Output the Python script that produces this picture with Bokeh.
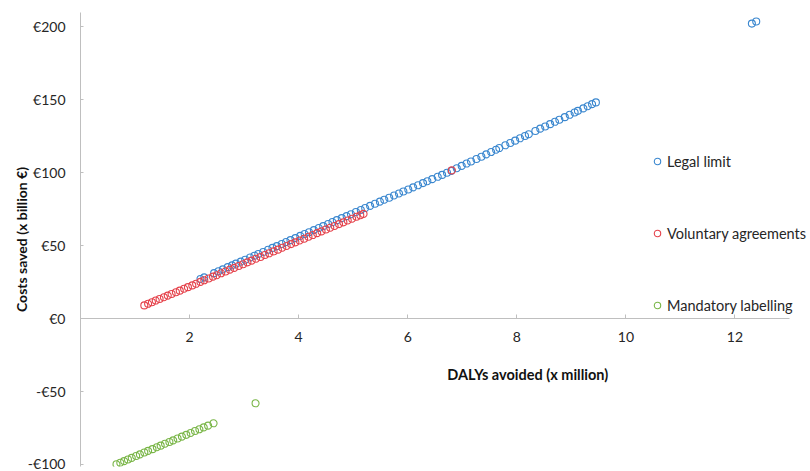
from bokeh.plotting import figure
from bokeh.models import FixedTicker, Label, Range1d
from bokeh.embed import file_html
from bokeh.resources import INLINE

# ---- data ----
legal_x = [2.20, 2.27, 2.45, 2.53, 2.61, 2.70, 2.78, 2.85, 2.94, 3.02, 3.11, 3.19, 3.26, 3.35,
           3.44, 3.52, 3.60, 3.69, 3.77, 3.85, 3.94, 4.03, 4.11, 4.19, 4.28, 4.37, 4.45, 4.54,
           4.62, 4.70, 4.79, 4.88, 4.96, 5.05, 5.14, 5.22, 5.31, 5.40, 5.49, 5.57, 5.66, 5.75,
           5.84, 5.92, 6.01, 6.10, 6.19, 6.28, 6.36, 6.45, 6.55, 6.63, 6.72, 6.80, 6.90, 6.99,
           7.08, 7.16, 7.26, 7.35, 7.44, 7.53, 7.62, 7.68, 7.79, 7.88, 7.97, 8.06, 8.15, 8.22,
           8.34, 8.43, 8.52, 8.61, 8.70, 8.78, 8.88, 8.97, 9.06, 9.12, 9.22, 9.30, 9.38, 9.45,
           12.31, 12.39]
legal_y = [27.0, 28.1, 31.0, 32.3, 33.6, 35.1, 36.3, 37.5, 38.9, 40.2, 41.7, 42.9, 44.1, 45.5,
           47.0, 48.3, 49.5, 51.0, 52.3, 53.6, 55.0, 56.5, 57.8, 59.0, 60.5, 61.9, 63.2, 64.7,
           66.0, 67.3, 68.7, 70.1, 71.4, 72.9, 74.3, 75.6, 77.1, 78.5, 80.0, 81.3, 82.7, 84.2,
           85.6, 86.9, 88.3, 89.8, 91.2, 92.7, 94.0, 95.4, 97.0, 98.3, 99.8, 101.1, 102.9, 104.5,
           106.1, 107.5, 109.2, 110.8, 112.4, 114.0, 115.6, 116.7, 118.6, 120.2, 121.8, 123.4, 125.0, 126.2,
           128.4, 130.0, 131.5, 133.1, 134.7, 136.1, 137.9, 139.5, 141.1, 142.2, 143.9, 145.4, 146.8, 148.0,
           202.0, 203.4]

voluntary_x = [1.17, 1.24, 1.31, 1.38, 1.45, 1.53, 1.60, 1.67, 1.75, 1.82, 1.90, 1.97, 2.05, 2.12,
               2.20, 2.27, 2.35, 2.43, 2.50, 2.58, 2.66, 2.74, 2.82, 2.90, 2.98, 3.06, 3.14, 3.22,
               3.30, 3.38, 3.46, 3.54, 3.62, 3.70, 3.78, 3.86, 3.94, 4.02, 4.10, 4.18, 4.26, 4.34,
               4.42, 4.50, 4.58, 4.66, 4.74, 4.82, 4.90, 4.98, 5.06, 5.13, 5.19, 6.81]
voluntary_y = [8.9, 10.0, 11.1, 12.2, 13.3, 14.5, 15.6, 16.7, 17.9, 19.0, 20.3, 21.4, 22.6, 23.7,
               25.0, 26.1, 27.3, 28.6, 29.6, 30.9, 32.1, 33.4, 34.6, 35.9, 37.1, 38.4, 39.6, 40.9,
               42.1, 43.4, 44.6, 45.9, 47.1, 48.4, 49.6, 50.9, 52.1, 53.4, 54.6, 55.9, 57.1, 58.4,
               59.6, 60.9, 62.1, 63.3, 64.6, 65.8, 67.1, 68.3, 69.6, 70.7, 71.6, 101.4]

labelling_x = [0.66, 0.73, 0.80, 0.87, 0.94, 1.02, 1.09, 1.17, 1.24, 1.32, 1.40, 1.47, 1.55, 1.63,
               1.70, 1.78, 1.86, 1.94, 2.02, 2.10, 2.18, 2.26, 2.34, 2.44, 3.21]
labelling_y = [-100.0, -98.9, -97.8, -96.7, -95.6, -94.3, -93.2, -91.9, -90.8, -89.6, -88.3, -87.2,
               -85.9, -84.7, -83.6, -82.3, -81.0, -79.8, -78.5, -77.2, -76.0, -74.7, -73.5, -71.9, -58.2]

series_names = ["Legal limit", "Voluntary agreements", "Mandatory labelling"]
series_colors = ["#3A87CF", "#E5434C", "#7AB648"]

x_ticks = [2, 4, 6, 8, 10, 12]
x_tick_labels = ["2", "4", "6", "8", "10", "12"]
y_ticks = [-100, -50, 0, 50, 100, 150, 200]
y_tick_labels = ["-€100", "-€50", "€0", "€50", "€100", "€150", "€200"]

x_title = "DALYs avoided (x million)"
y_title = "Costs saved (x billion €)"

FONT = "Lato"
TXT = "#262626"
AXIS = "#BFBFBF"

p = figure(width=810, height=471,
           x_range=Range1d(0, 13.385), y_range=Range1d(-101.5, 209.6),
           output_backend="svg", toolbar_location=None,
           min_border_left=80, min_border_right=0,
           min_border_top=12, min_border_bottom=5)
p.outline_line_color = None
p.xgrid.visible = False
p.ygrid.visible = False
p.background_fill_color = "white"
p.border_fill_color = "white"

for (xs, ys), name, col in zip([(legal_x, legal_y), (voluntary_x, voluntary_y), (labelling_x, labelling_y)],
                               series_names, series_colors):
    p.scatter(xs, ys, marker="circle", size=7, line_color=col, line_width=1.1,
              fill_color=None, legend_label=name)

# x axis crossing at y = 0
xa = p.xaxis[0]
xa.fixed_location = 0
xa.bounds = (0, 13)
xa.ticker = FixedTicker(ticks=x_ticks)
xa.major_label_overrides = {t: l for t, l in zip(x_ticks, x_tick_labels)}
xa.axis_line_color = AXIS
xa.major_tick_line_color = AXIS
xa.major_tick_in = 4
xa.major_tick_out = 0
xa.minor_tick_line_color = None
xa.major_label_standoff = 14
xa.major_label_text_font = FONT
xa.major_label_text_font_size = "14px"
xa.major_label_text_color = TXT

ya = p.yaxis[0]
ya.ticker = FixedTicker(ticks=y_ticks)
ya.major_label_overrides = {t: l for t, l in zip(y_ticks, y_tick_labels)}
ya.axis_line_color = AXIS
ya.major_tick_line_color = AXIS
ya.major_tick_in = 3
ya.major_tick_out = 0
ya.minor_tick_line_color = None
ya.major_label_standoff = 15
ya.major_label_text_font = FONT
ya.major_label_text_font_size = "14px"
ya.major_label_text_color = TXT
ya.axis_label = y_title
ya.axis_label_text_font = FONT
ya.axis_label_text_font_size = "14px"
ya.axis_label_text_font_style = "bold"
ya.axis_label_text_color = "#111111"
ya.axis_label_standoff = -5

p.add_layout(Label(x=8.2, y=-38.4, text=x_title, text_align="center", text_baseline="middle",
                   text_font=FONT, text_font_size="14.5px", text_font_style="bold",
                   text_color="#111111"))

lg = p.legend[0]
lg.location = (569, 151)
lg.label_text_font = FONT
lg.label_text_font_size = "14.5px"
lg.label_text_color = TXT
lg.glyph_width = 16
lg.glyph_height = 16
lg.label_height = 20
lg.label_standoff = 2
lg.spacing = 52
lg.padding = 0
lg.margin = 0
lg.border_line_color = None
lg.background_fill_alpha = 0

open("out.html", "w").write(file_html(p, INLINE))
